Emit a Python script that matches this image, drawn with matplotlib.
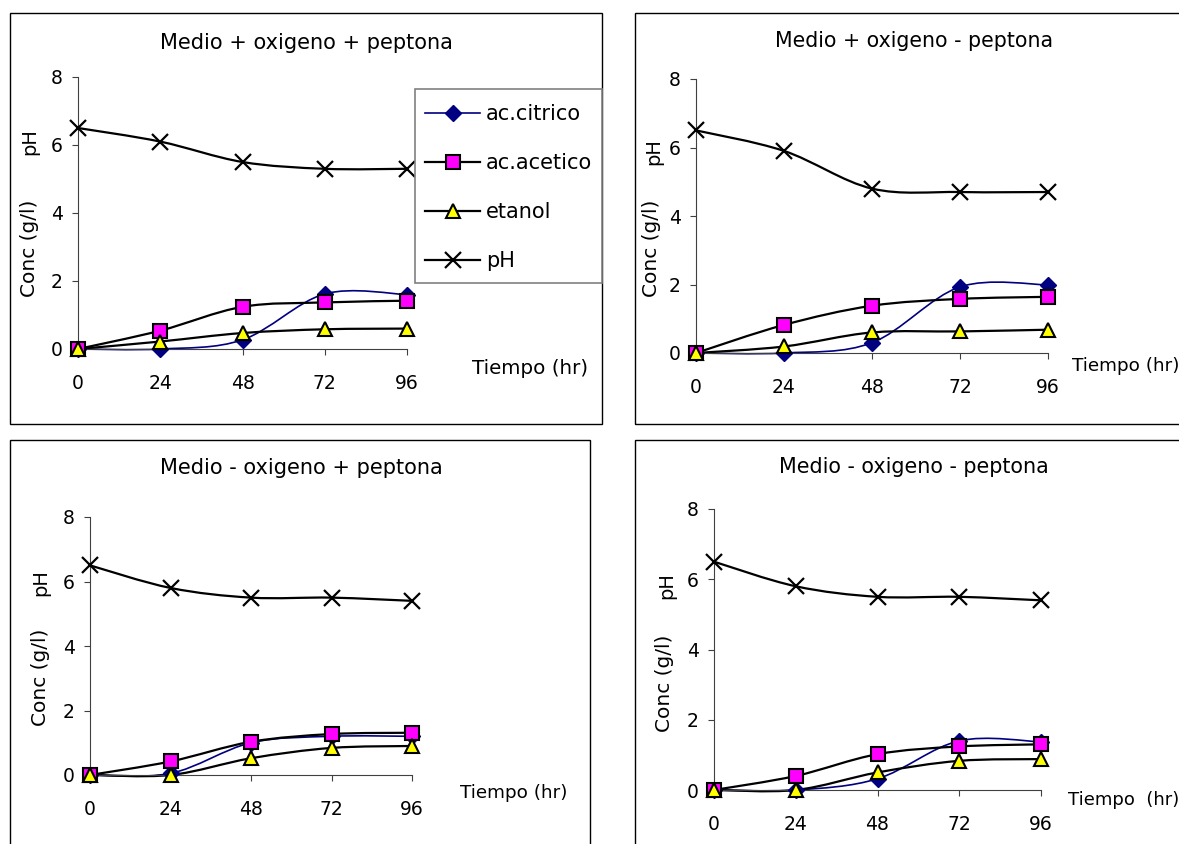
import matplotlib
matplotlib.use("Agg")
import matplotlib.pyplot as plt
from matplotlib.path import Path
from matplotlib.patches import PathPatch, Rectangle
from matplotlib.lines import Line2D

# ---------------- data ----------------
tiempo = [0, 24, 48, 72, 96]
xticks = [0, 24, 48, 72, 96]
yticks = [0, 2, 4, 6, 8]

titles = ["Medio + oxigeno + peptona", "Medio + oxigeno - peptona",
          "Medio - oxigeno + peptona", "Medio - oxigeno - peptona"]
xlabels = ["Tiempo (hr)", "Tiempo (hr)", "Tiempo (hr)", "Tiempo  (hr)"]
series_names = ["ac.citrico", "ac.acetico", "etanol", "pH"]

citrico_1 = [0, 0, 0.27, 1.62, 1.6]
acetico_1 = [0, 0.54, 1.24, 1.37, 1.42]
etanol_1 = [0, 0.22, 0.47, 0.58, 0.6]
ph_1 = [6.5, 6.1, 5.5, 5.3, 5.3]

citrico_2 = [0, 0, 0.3, 1.93, 1.99]
acetico_2 = [0, 0.82, 1.38, 1.58, 1.64]
etanol_2 = [0, 0.19, 0.6, 0.63, 0.68]
ph_2 = [6.5, 5.9, 4.8, 4.7, 4.7]

citrico_3 = [0, 0.05, 1.0, 1.2, 1.2]
acetico_3 = [0, 0.42, 1.03, 1.27, 1.31]
etanol_3 = [0, 0, 0.52, 0.84, 0.9]
ph_3 = [6.5, 5.8, 5.5, 5.5, 5.4]

citrico_4 = [0, 0, 0.32, 1.4, 1.37]
acetico_4 = [0, 0.4, 1.02, 1.24, 1.3]
etanol_4 = [0, 0, 0.5, 0.83, 0.88]
ph_4 = [6.5, 5.8, 5.5, 5.5, 5.4]

panels = [
    (citrico_1, acetico_1, etanol_1, ph_1),
    (citrico_2, acetico_2, etanol_2, ph_2),
    (citrico_3, acetico_3, etanol_3, ph_3),
    (citrico_4, acetico_4, etanol_4, ph_4),
]

# ---------------- layout (pixel geometry) ----------------
W, H = 1179, 844
fig = plt.figure(figsize=(W / 100, H / 100), dpi=100)
plt.rcParams['font.family'] = ['DejaVu Sans']

def fx(x):
    return x / W

def fy(y):
    return 1 - y / H

# axes: x at t=0, x at t=96, y at v=8, y at v=0
axes_px = [(78, 407, 77, 349), (696, 1048, 79, 353),
           (90, 412, 517, 775), (714, 1041, 509, 790)]
frames_px = [(10, 13, 602, 424), (635, 13, 1190, 424),
             (10, 440, 590, 860), (635, 440, 1190, 860)]
title_px = [(306, 43), (914, 41), (301, 468), (914, 467)]
title_sizes = [15, 14.8, 15, 14.9]
tiempo_px = [(472, 368), (1072, 366), (460, 793), (1068, 800)]
tiempo_sizes = [14.3, 13.2, 13.2, 13]
ph_lab_px = [(30, 142), (654, 152), (41, 583), (667, 586)]
conc_lab_px = [(30, 248), (652, 248), (41, 677), (665, 683)]
legend_box_px = (415, 89, 602, 283)

NAVY = '#000080'
styles = [
    dict(color=NAVY, lw=1.2, marker='D', ms=8, mfc=NAVY, mec=NAVY, mew=1),
    dict(color='black', lw=1.6, marker='s', ms=10, mfc='#FF00FF', mec='black', mew=1.5),
    dict(color='black', lw=1.6, marker='^', ms=10, mfc='#FFFF00', mec='black', mew=1.5),
    dict(color='black', lw=1.6, marker='x', ms=11, mfc='black', mec='black', mew=1.6),
]


def smooth_path(xs, ys, sx, sy):
    """Excel-like smoothed line: cubic Bezier segments through the points,
    control points computed in pixel-scaled space (Catmull-Rom, 1/6)."""
    P = [(x * sx, y * sy) for x, y in zip(xs, ys)]
    n = len(P)
    verts = [P[0]]
    codes = [Path.MOVETO]
    for i in range(n - 1):
        p0 = P[i - 1] if i > 0 else P[i]
        p1 = P[i]
        p2 = P[i + 1]
        p3 = P[i + 2] if i + 2 < n else P[i + 1]
        c1 = (p1[0] + (p2[0] - p0[0]) / 6, p1[1] + (p2[1] - p0[1]) / 6)
        c2 = (p2[0] - (p3[0] - p1[0]) / 6, p2[1] - (p3[1] - p1[1]) / 6)
        verts += [c1, c2, p2]
        codes += [Path.CURVE4] * 3
    verts = [(vx / sx, vy / sy) for vx, vy in verts]
    return Path(verts, codes)


for k in range(4):
    x0, x96, y8, y0 = axes_px[k]
    ax = fig.add_axes([fx(x0), fy(y0), (x96 - x0) / W, (y0 - y8) / H])
    ax.set_xlim(0, 96)
    ax.set_ylim(0, 8)
    ax.patch.set_alpha(0)
    for s in ['top', 'right']:
        ax.spines[s].set_visible(False)
    for s in ['left', 'bottom']:
        ax.spines[s].set_color('#404040')
        ax.spines[s].set_linewidth(0.8)
    ax.set_xticks(xticks)
    ax.set_yticks(yticks)
    ax.set_xticklabels([str(t) for t in xticks])
    ax.set_yticklabels([str(t) for t in yticks])
    ax.tick_params(axis='both', direction='out', length=4, width=0.8,
                   color='#404040', labelsize=13.5)
    ax.tick_params(axis='x', pad=14)
    ax.tick_params(axis='y', pad=7)

    sx = (x96 - x0) / 96.0
    sy = (y0 - y8) / 8.0
    for vals, st in zip(panels[k], styles):
        path = smooth_path(tiempo, vals, sx, sy)
        ax.add_patch(PathPatch(path, facecolor='none', edgecolor=st['color'],
                               lw=st['lw'], clip_on=False, zorder=2))
        ax.plot(tiempo, vals, linestyle='none', marker=st['marker'],
                ms=st['ms'], mfc=st['mfc'], mec=st['mec'], mew=st['mew'],
                clip_on=False, zorder=3)

    # frame around the chart
    fl, ft, fr, fb = frames_px[k]
    fig.patches.append(Rectangle((fx(fl), fy(fb)), (fr - fl) / W, (fb - ft) / H,
                                 transform=fig.transFigure, fill=False,
                                 edgecolor='black', lw=1.0))

    tx, ty = title_px[k]
    fig.text(fx(tx), fy(ty), titles[k], ha='center', va='center',
             fontsize=title_sizes[k])
    lx, ly = tiempo_px[k]
    fig.text(fx(lx), fy(ly), xlabels[k], ha='left', va='center',
             fontsize=tiempo_sizes[k])
    px_, py_ = ph_lab_px[k]
    fig.text(fx(px_), fy(py_), "pH", ha='center', va='center', rotation=90, fontsize=14)
    cx, cy = conc_lab_px[k]
    fig.text(fx(cx), fy(cy), "Conc (g/l)", ha='center', va='center', rotation=90,
             fontsize=14.5)

# legend box (first panel) and legend entries
bl, bt, br, bb = legend_box_px
fig.patches.append(Rectangle((fx(bl), fy(bb)), (br - bl) / W, (bb - bt) / H,
                             transform=fig.transFigure, facecolor='white',
                             edgecolor='#808080', lw=1.2, zorder=2))
handles = [Line2D([], [], color=st['color'], lw=st['lw'], marker=st['marker'],
                  ms=st['ms'], mfc=st['mfc'], mec=st['mec'], mew=st['mew'])
           for st in styles]
leg = fig.legend(handles, series_names, loc='upper left',
                 bbox_to_anchor=(fx(bl), fy(bt + 4.5)), bbox_transform=fig.transFigure,
                 fontsize=15, handlelength=2.64, handletextpad=0.27,
                 labelspacing=1.4, borderpad=0.5, borderaxespad=0,
                 frameon=False)
leg.set_zorder(5)

fig.savefig("out.png", dpi=100)
